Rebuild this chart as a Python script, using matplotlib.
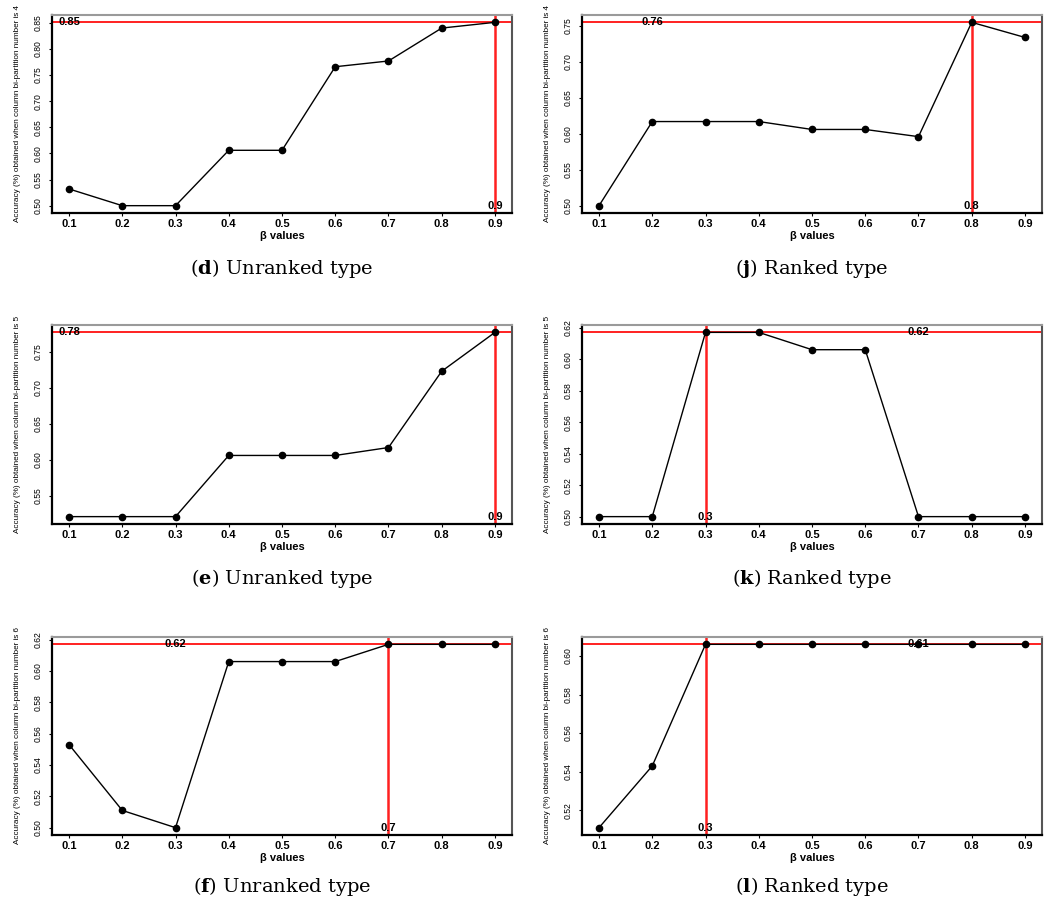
import matplotlib
matplotlib.use("Agg")
import matplotlib.pyplot as plt

plt.rcParams['mathtext.fontset'] = 'custom'
plt.rcParams['mathtext.rm'] = 'DejaVu Serif'
plt.rcParams['mathtext.bf'] = 'DejaVu Serif:bold'

beta = [0.1, 0.2, 0.3, 0.4, 0.5, 0.6, 0.7, 0.8, 0.9]
xtick_labels = ["0.1", "0.2", "0.3", "0.4", "0.5", "0.6", "0.7", "0.8", "0.9"]

acc_d = [0.532, 0.500, 0.500, 0.606, 0.606, 0.766, 0.777, 0.840, 0.851]
acc_j = [0.500, 0.617, 0.617, 0.617, 0.606, 0.606, 0.596, 0.755, 0.734]
acc_e = [0.521, 0.521, 0.521, 0.606, 0.606, 0.606, 0.617, 0.723, 0.777]
acc_k = [0.500, 0.500, 0.617, 0.617, 0.606, 0.606, 0.500, 0.500, 0.500]
acc_f = [0.553, 0.511, 0.500, 0.606, 0.606, 0.606, 0.617, 0.617, 0.617]
acc_l = [0.511, 0.543, 0.606, 0.606, 0.606, 0.606, 0.606, 0.606, 0.606]

partition_numbers = [4, 4, 5, 5, 6, 6]
letters = ["d", "j", "e", "k", "f", "l"]
types = ["Unranked type", "Ranked type", "Unranked type", "Ranked type", "Unranked type", "Ranked type"]
max_label_x = [0.1, 0.2, 0.1, 0.7, 0.3, 0.7]
yticks_sets = [
    [0.50, 0.55, 0.60, 0.65, 0.70, 0.75, 0.80, 0.85],
    [0.50, 0.55, 0.60, 0.65, 0.70, 0.75],
    [0.55, 0.60, 0.65, 0.70, 0.75],
    [0.50, 0.52, 0.54, 0.56, 0.58, 0.60, 0.62],
    [0.50, 0.52, 0.54, 0.56, 0.58, 0.60, 0.62],
    [0.52, 0.54, 0.56, 0.58, 0.60],
]
series = [acc_d, acc_j, acc_e, acc_k, acc_f, acc_l]

W, H = 1059, 906
fig = plt.figure(figsize=(W / 100, H / 100), dpi=100)

cols = [(52, 512), (582, 1042)]
rows = [(15, 213), (325, 524), (637, 835)]
caption_y = [268, 578, 886]

narrow = ['Liberation Sans Narrow', 'Liberation Sans', 'DejaVu Sans']
sans = ['Liberation Sans', 'DejaVu Sans']

for i, y in enumerate(series):
    r, c = divmod(i, 2)
    x0, x1 = cols[c]
    t0, t1 = rows[r]
    ax = fig.add_axes([x0 / W, 1 - t1 / H, (x1 - x0) / W, (t1 - t0) / H])
    ax.plot(beta, y, color='black', lw=1.0, marker='o', ms=4.5, mfc='black', mec='black', zorder=3)
    ax.margins(x=0.04, y=0.04)
    ymax = max(y)
    ymin = min(y)
    xbest = beta[y.index(ymax)]
    ax.axhline(ymax, color='#ff2020', lw=1.4, zorder=2)
    ax.axvline(xbest, color='#ff2020', lw=1.8, zorder=2)
    ax.text(max_label_x[i], ymax, f"{ymax:.2f}", ha='center', va='center',
            fontsize=8, fontweight='bold', family=sans, zorder=4)
    ax.text(xbest, ymin, f"{xbest:.1f}", ha='center', va='center',
            fontsize=8, fontweight='bold', family=sans, zorder=4)
    ax.set_xticks(beta)
    ax.set_xticklabels(xtick_labels, fontsize=8, fontweight='bold', family=sans)
    yt = yticks_sets[i]
    ax.set_yticks(yt)
    ax.set_yticklabels([f"{v:.2f}" for v in yt], fontsize=6.2, family=narrow,
                       rotation=90, va='center')
    ax.tick_params(axis='both', direction='out', length=2.5, width=0.8, pad=2)
    ax.tick_params(axis='y', pad=4)
    ax.set_xlabel("β values", fontsize=8, fontweight='bold', family=sans, labelpad=1)
    ax.set_ylabel(f"Accuracy (%) obtained when column bi-partition number is {partition_numbers[i]}",
                  fontsize=5.9, family=narrow, labelpad=9)
    ax.spines['left'].set_color('black')
    ax.spines['bottom'].set_color('black')
    ax.spines['left'].set_linewidth(1.6)
    ax.spines['bottom'].set_linewidth(1.6)
    ax.spines['top'].set_color('#9a9a9a')
    ax.spines['right'].set_color('#555555')
    ax.spines['top'].set_linewidth(1.5)
    ax.spines['right'].set_linewidth(1.5)
    fig.text((x0 + x1) / 2 / W, 1 - caption_y[r] / H,
             "(" + r"$\mathbf{" + letters[i] + "}$" + ") " + types[i],
             ha='center', va='center', fontsize=14, family='DejaVu Serif')

fig.savefig("out.png", dpi=100)
